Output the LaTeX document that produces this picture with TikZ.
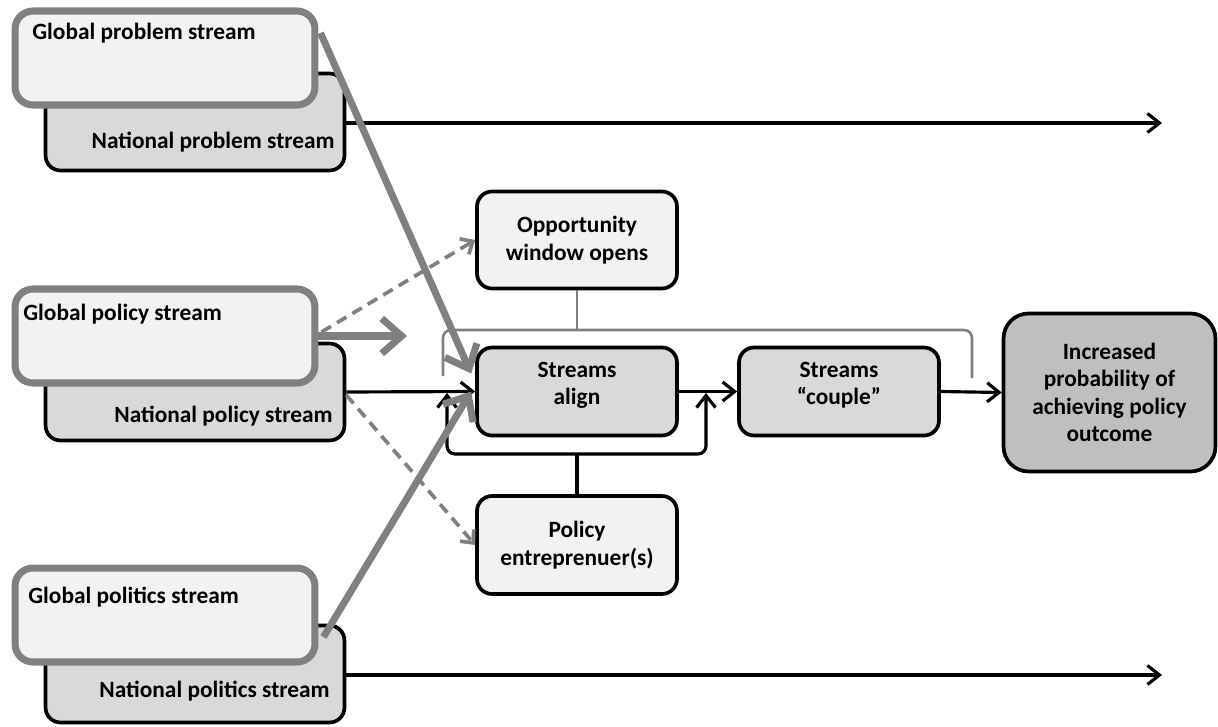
\documentclass[tikz,border=0pt]{standalone}
\usepackage{fontspec}
\setmainfont{Carlito}
\usepackage{tikz}
\usetikzlibrary{
	arrows.meta,
	positioning,
	calc,
	shadows
}
\usepackage{xcolor}

\definecolor{boxlight}{HTML}{F2F2F2}
\definecolor{boxmid}{HTML}{D9D9D9}
\definecolor{boxdark}{HTML}{BFBFBF}
\definecolor{linegray}{HTML}{808080}

\begin{document}
\begin{tikzpicture}[x=0.02cm,y=-0.02cm,
		font=\bfseries\fontsize{13.3}{15.6}\selectfont,
		globalbox/.style={draw=linegray, line width=4pt, fill=boxlight,
			rounded corners=0.36cm, minimum width=6cm, minimum height=1.88cm,
			drop shadow={shadow xshift=1pt, shadow yshift=-1.5pt, opacity=0.35}},
		nationalbox/.style={draw, line width=2.1pt, fill=boxmid,
			rounded corners=0.3cm, minimum width=5.98cm, minimum height=1.94cm},
		procbox/.style={draw, line width=2.1pt, rounded corners=0.3cm,
			minimum width=4cm, align=center},
		streamtext/.style={inner sep=0pt},
		blackarrow/.style={line width=1.8pt, -{Straight Barb[length=2.4mm,width=3.8mm]}},
		grayarrow/.style={draw=linegray, line width=4pt, -{Straight Barb[length=4mm,width=7mm]}},
		dasharrow/.style={draw=linegray, line width=2.1pt, dash pattern=on 0.22cm off 0.14cm,
			-{Straight Barb[length=2mm,width=3.6mm]}}
	]
	
	\useasboundingbox (0,0) rectangle (1218,727);
	
	% National streams
	\node[nationalbox] (nprob) at (195,122) {};
	\node[nationalbox] (npolicy) at (195,392) {};
	\node[nationalbox] (npolit) at (195,674) {};
	\node[streamtext, anchor=base east] (nprobtext) at (335,148) {National problem stream};
	\node[streamtext, anchor=base east] (npolicytext) at (333,422) {National policy stream};
	\node[streamtext, anchor=base east] (npolittext) at (330,697) {National politics stream};
	
	% Global streams
	\node[globalbox] (gprob) at (165,58) {};
	\node[globalbox] (gpolicy) at (165,336) {};
	\node[globalbox] (gpolit) at (165,615) {};
	\node[streamtext, anchor=base west] (gprobtext) at (32,39) {Global problem stream};
	\node[streamtext, anchor=base west] (gpolicytext) at (23,320) {Global policy stream};
	\node[streamtext, anchor=base west] (gpolittext) at (28,603) {Global politics stream};
	
	% Process boxes
	\node[procbox, fill=boxlight, minimum height=1.94cm] (opp) at (577,240)
	{Opportunity\\window opens};
	\node[procbox, fill=boxmid, minimum height=1.76cm] (align) at (577,391.5)
	{Streams\\align\\[-6pt]};
	\node[procbox, fill=boxmid, minimum height=1.76cm] (couple) at (839,391.5)
	{Streams\\``couple''\\[-6pt]};
	\node[procbox, fill=boxlight, minimum height=1.96cm] (entr) at (577,545)
	{Policy\\entreprenuer(s)};
	\node[procbox, fill=boxdark, minimum width=4.24cm, minimum height=3.16cm,
	rounded corners=0.5cm] (incr) at (1109.5,392.5)
	{Increased\\probability of\\achieving policy\\outcome};
	
	% Window bracket
	\coordinate (wl) at (443,376);
	\coordinate (wr) at (972,378);
	\draw[linegray, line width=1.5pt, rounded corners=0.16cm]
	(wl) -- (443,330) -- (972,330) -- (wr);
	\draw[linegray, line width=1.5pt] (opp.south) -- (577,330);
	
	% Entrepreneur bracket
	\coordinate (el) at (447,393);
	\coordinate (er) at (706,393);
	\draw[line width=1.8pt, rounded corners=0.16cm,
	{Straight Barb[length=2.4mm,width=3.8mm]}-{Straight Barb[length=2.4mm,width=3.8mm]}]
	(el) -- (447,454) -- (706,454) -- (er);
	\draw[line width=1.8pt] (entr.north) -- (577,454);
	
	% Main flow
	\coordinate (probend) at (1162,123);
	\coordinate (politend) at (1162,675);
	\draw[blackarrow] (nprob.east |- 0,123) -- (probend);
	\draw[blackarrow] (npolit.east |- 0,675) -- (politend);
	\draw[blackarrow] (npolicy.east) -- (align.west);
	\draw[blackarrow] (align.east) -- (couple.west);
	\draw[blackarrow] (couple.east) -- (incr.west);
	
	% Global influences
	\coordinate (policyend) at (407,336);
	\draw[dasharrow] ($(gpolicy.east)+(3,-4)$) -- (opp.west);
	\draw[dasharrow] ($(npolicy.east)+(0,3)$) -- (entr.west);
	\draw[grayarrow] (gpolicy.east) -- (policyend);
	\draw[grayarrow] ($(gprob.east)+(2,-25)$) -- ($(align.west)+(-4,-18)$);
	\draw[grayarrow] ($(gpolit.east)+(5,22)$) -- ($(align.west)+(-4,0)$);
	
\end{tikzpicture}
\end{document}
